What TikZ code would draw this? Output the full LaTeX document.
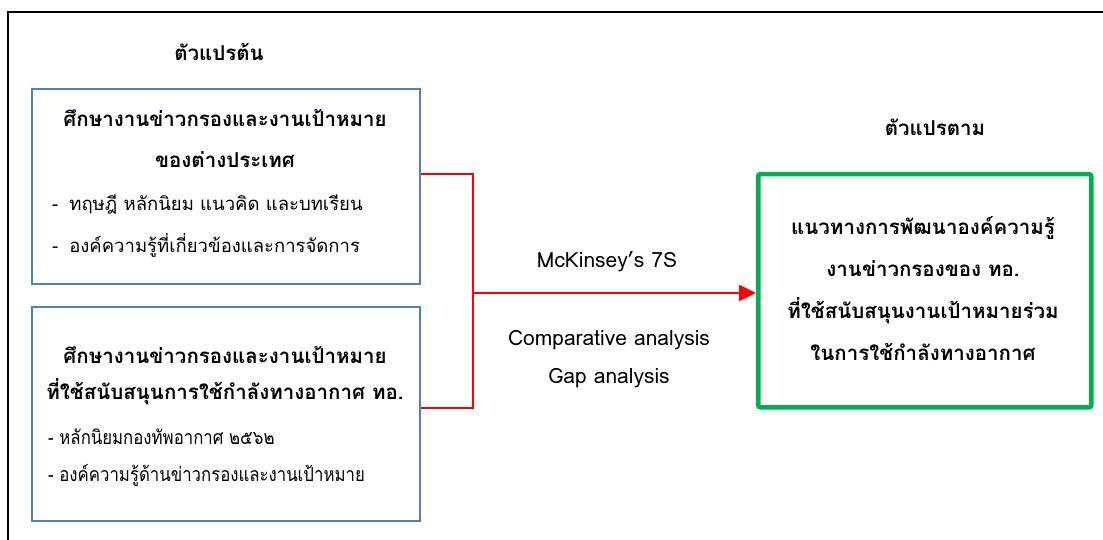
\documentclass[tikz,border=0pt]{standalone}
\usepackage{fontspec}
\setmainfont[Script=Thai]{Loma}
\newfontfamily\latinf{Loma}
\newfontfamily\thaithin[Script=Thai,FakeStretch=0.86]{Loma}
\usetikzlibrary{arrows.meta}
\definecolor{boxblue}{RGB}{79,129,189}
\definecolor{boxgreen}{RGB}{0,176,80}
\definecolor{linered}{RGB}{255,0,0}
\tikzset{
  bluebox/.style={draw=boxblue, line width=2.2pt, minimum width=388pt, minimum height=195pt, anchor=north west, inner sep=0pt},
  greenbox/.style={draw=boxgreen, line width=4.5pt, rounded corners=2pt, minimum width=333pt, minimum height=233pt, anchor=north west, inner sep=0pt},
  redline/.style={draw=linered, line width=2.4pt},
  boldtxt/.style={font=\fontsize{20.5}{24}\selectfont\bfseries, inner sep=0pt, anchor=center},
  plaintxt/.style={font=\fontsize{18.5}{22}\selectfont, inner sep=0pt, anchor=west},
  thintxt/.style={font=\fontsize{19.5}{23}\selectfont\thaithin, inner sep=0pt, anchor=west},
  engtxt/.style={font=\fontsize{21}{25}\selectfont\latinf, inner sep=0pt, anchor=center},
}
\begin{document}
\begin{tikzpicture}[x=1pt,y=-1pt]
\useasboundingbox (0,0) rectangle (1103,540);
\draw[line width=1.3pt] (8,540) -- (8,12) -- (1103,12);
\node[bluebox] (b1) at (31,88) {};
\node[bluebox, minimum height=214pt] (b2) at (31,306) {};
\node[greenbox] (g) at (756,172) {};
\node[boldtxt] (t1) at (219,52) {ตัวแปรต้น};
\node[boldtxt] (t2) at (935,127) {ตัวแปรตาม};
\node[boldtxt] (a1) at (225,118) {ศึกษางานข่าวกรองและงานเป้าหมาย};
\node[boldtxt] (a2) at (225,160) {ของต่างประเทศ};
\node[plaintxt] (a3) at (52,205) {-\hspace{11pt}ทฤษฎี หลักนิยม แนวคิด และบทเรียน};
\node[plaintxt] (a4) at (52,245) {-\hspace{11pt}องค์ความรู้ที่เกี่ยวข้องและการจัดการ};
\node[boldtxt] (c1) at (225,355) {ศึกษางานข่าวกรองและงานเป้าหมาย};
\node[boldtxt] (c2) at (225,392) {ที่ใช้สนับสนุนการใช้กำลังทางอากาศ ทอ.};
\node[thintxt] (c3) at (48,437) {- หลักนิยมกองทัพอากาศ ๒๕๖๒};
\node[thintxt] (c4) at (48,475) {- องค์ความรู้ด้านข่าวกรองและงานเป้าหมาย};
\node[engtxt] (e1) at (607,262) {McKinsey’s 7S};
\node[engtxt] (e2) at (609,340) {Comparative analysis};
\node[engtxt] (e3) at (609,378) {Gap analysis};
\node[boldtxt] (g1) at (923,228) {แนวทางการพัฒนาองค์ความรู้};
\node[boldtxt] (g2) at (923,269) {งานข่าวกรองของ ทอ.};
\node[boldtxt] (g3) at (923,311) {ที่ใช้สนับสนุนงานเป้าหมายร่วม};
\node[boldtxt] (g4) at (923,352) {ในการใช้กำลังทางอากาศ};
\coordinate (j) at (473,293);
\draw[redline] ([yshift=12.5pt]b1.east) -| (j);
\draw[redline] ([yshift=6pt]b2.east) -| (j);
\draw[redline, -{Triangle[length=17pt,width=16pt]}] (j) -- (j -| g.west);
\end{tikzpicture}
\end{document}
